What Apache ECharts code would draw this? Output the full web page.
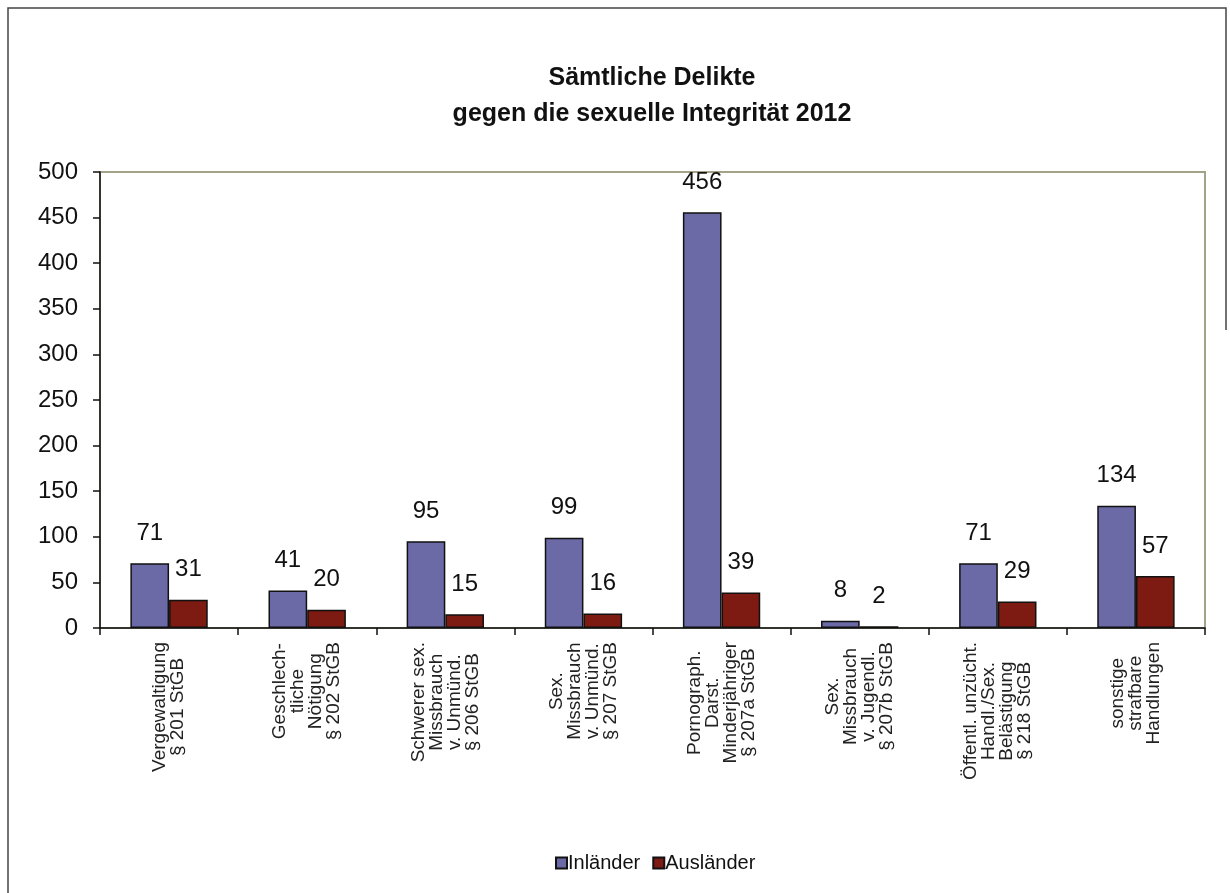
<!DOCTYPE html>
<html>
<head>
<meta charset="utf-8">
<title>Sämtliche Delikte gegen die sexuelle Integrität 2012</title>
<script src="https://cdn.jsdelivr.net/npm/echarts@6/dist/echarts.min.js"></script>
<style>
  html, body { margin: 0; padding: 0; background: #ffffff; }
  #chart { width: 1230px; height: 893px; }
</style>
</head>
<body>
<div id="chart"></div>
<script>
// Offence categories (multi-line labels as printed under the axis)
const categories = [
  'Vergewaltigung\n§ 201 StGB',
  'Geschlech-\ntliche\nNötigung\n§ 202 StGB',
  'Schwerer sex.\nMissbrauch\nv. Unmünd.\n§ 206 StGB',
  'Sex.\nMissbrauch\nv. Unmünd.\n§ 207 StGB',
  'Pornograph.\nDarst.\nMinderjähriger\n§ 207a StGB',
  'Sex.\nMissbrauch\nv. Jugendl.\n§ 207b StGB',
  'Öffentl. unzücht.\nHandl./Sex.\nBelästigung\n§ 218 StGB',
  'sonstige\nstrafbare\nHandlungen'
];

// Counts per group
const inlaender = [71, 41, 95, 99, 456, 8, 71, 134];
const auslaender = [31, 20, 15, 16, 39, 2, 29, 57];

const seriesNames = ['Inländer', 'Ausländer'];
const titleLines = ['Sämtliche Delikte', 'gegen die sexuelle Integrität 2012'];

const FONT = "'Liberation Sans', Arial, Helvetica, sans-serif";

const chart = echarts.init(document.getElementById('chart'), null, { renderer: 'canvas' });

const barStyle = (color) => ({
  color: color,
  borderColor: '#111111',
  borderWidth: 1.5
});

const valueLabel = {
  show: true,
  position: 'top',
  distance: 18,
  color: '#111111',
  fontFamily: FONT,
  fontSize: 24
};

chart.setOption({
  backgroundColor: '#ffffff',
  animation: false,
  textStyle: { fontFamily: FONT },
  title: {
    text: titleLines.join('\n'),
    left: 647,
    textAlign: 'center',
    top: 55,
    textStyle: {
      fontFamily: FONT,
      fontSize: 25,
      fontWeight: 'bold',
      color: '#111111',
      lineHeight: 36
    }
  },
  legend: {
    data: seriesNames,
    left: 550,
    top: 848,
    itemWidth: 11,
    itemHeight: 11,
    itemGap: 12,
    icon: 'rect',
    textStyle: { fontFamily: FONT, fontSize: 20, color: '#111111', padding: [0, 0, 0, -4] }
  },
  grid: {
    left: 100,
    right: 25,
    top: 172,
    bottom: 265,
    show: true,
    borderColor: '#a2a388',
    borderWidth: 2,
    backgroundColor: 'transparent'
  },
  xAxis: {
    type: 'category',
    data: categories,
    axisLine: { show: true, lineStyle: { color: '#111111', width: 1.5 } },
    axisTick: { show: true, length: 7, alignWithLabel: false, lineStyle: { color: '#111111', width: 1.5 } },
    axisLabel: {
      interval: 0,
      rotate: 90,
      margin: 14,
      color: '#222222',
      formatter: (v) => v.split('\n').map(l => '{c|' + l + '}').join('\n'),
      rich: {
        c: { align: 'center', fontFamily: FONT, fontSize: 19, lineHeight: 18, color: '#222222' }
      }
    }
  },
  yAxis: {
    type: 'value',
    min: 0,
    max: 500,
    interval: 50,
    splitLine: { show: false },
    axisLine: { show: true, lineStyle: { color: '#111111', width: 1.5 } },
    axisTick: { show: true, length: 7, lineStyle: { color: '#111111', width: 1.5 } },
    axisLabel: { margin: 22, fontFamily: FONT, fontSize: 24, color: '#111111' }
  },
  series: [
    {
      name: seriesNames[0],
      type: 'bar',
      data: inlaender,
      barWidth: '28%',
      barGap: '0%',
      itemStyle: barStyle('#6b6aa6'),
      label: valueLabel
    },
    {
      name: seriesNames[1],
      type: 'bar',
      data: auslaender,
      barWidth: '28%',
      barGap: '0%',
      itemStyle: barStyle('#7d1a12'),
      label: valueLabel
    }
  ],
  graphic: [
    {
      type: 'polyline',
      silent: true,
      shape: { points: [[8, 900], [8, 8], [1226, 8], [1226, 330]] },
      style: { stroke: '#444444', lineWidth: 1.5, fill: null }
    }
  ]
});
</script>
</body>
</html>
